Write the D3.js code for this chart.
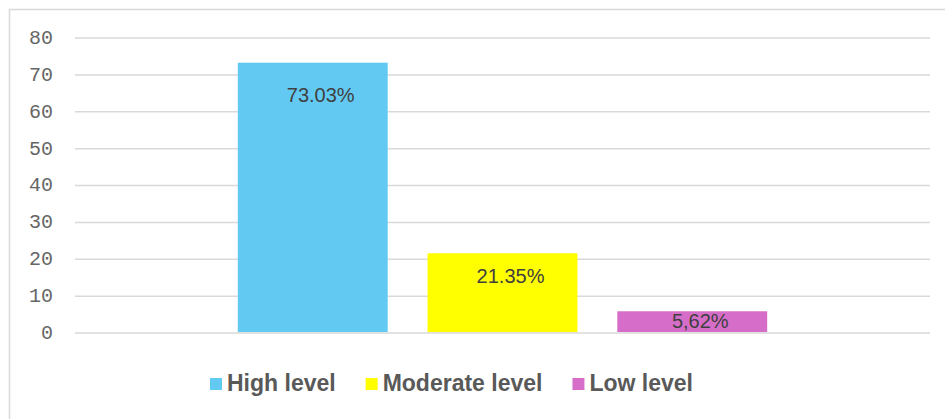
<!DOCTYPE html>
<html>
  <head>
    <meta charset="utf-8">
    <script src="https://cdn.jsdelivr.net/npm/d3@7"></script>
    <style>
      body { margin: 0; background: #fff; }
      svg { display: block; }
    </style>
  </head>
  <body>
<svg width="945" height="419"></svg>
<script>
var series = ['High level', 'Moderate level', 'Low level'];
var values = [73.03, 21.35, 5.62];
var labels = ['73.03%', '21.35%', '5,62%'];
var colors = ['#62caf2', '#ffff00', '#d66ec9'];
var yTicks = [0, 10, 20, 30, 40, 50, 60, 70, 80];

var svg = d3.select('svg');

// chart frame (right and bottom run off the picture)
svg.append('rect')
  .attr('x', 9.5).attr('y', 9.5)
  .attr('width', 1000).attr('height', 1000)
  .attr('fill', 'none')
  .attr('stroke', '#d9d9d9')
  .attr('stroke-width', 1.5);

var y = d3.scaleLinear().domain([0, 80]).range([332, 37]);

// one category, three series side by side
var x0 = d3.scaleBand().domain(['']).range([75, 930]).paddingOuter(0.3075);
var x1 = d3.scaleBand().domain(series)
  .range([x0(''), x0('') + x0.bandwidth()])
  .paddingInner(0.21);

var yAxis = d3.axisLeft(y).tickValues(yTicks).tickSize(-855).tickPadding(22);
var gy = svg.append('g').attr('transform', 'translate(75,0)').call(yAxis);
gy.select('.domain').remove();
gy.selectAll('.tick line').attr('stroke', '#d9d9d9').attr('stroke-width', 1.5)
  .attr('transform', 'translate(0,0.5)');
gy.selectAll('.tick text')
  .attr('fill', '#666')
  .style('font-family', '"Liberation Mono", monospace')
  .style('font-size', '20px');

svg.append('g').selectAll('rect').data(series)
  .enter()
  .append('rect')
    .attr('x', function (d) { return x1(d); })
    .attr('width', x1.bandwidth())
    .attr('y', function (d, i) { return y(values[i]); })
    .attr('height', function (d, i) { return y(0) - y(values[i]); })
    .attr('fill', function (d, i) { return colors[i]; });

// data labels sit a little inside the top of each bar, nudged right
var labelDrop = [39, 30, 17];
svg.append('g').selectAll('text').data(series)
  .enter()
  .append('text')
    .attr('x', function (d) { return x1(d) + x1.bandwidth() / 2 + 8; })
    .attr('y', function (d, i) { return y(values[i]) + labelDrop[i]; })
    .attr('text-anchor', 'middle')
    .attr('fill', '#404040')
    .style('font-family', '"Liberation Sans", Arial, sans-serif')
    .style('font-size', '20px')
    .text(function (d, i) { return labels[i]; });

// legend
var legend = svg.append('g').attr('transform', 'translate(210,391)');
var lx = 0;
series.forEach(function (s, i) {
  var g = legend.append('g').attr('transform', 'translate(' + lx + ',0)');
  g.append('rect').attr('x', 0).attr('y', -13).attr('width', 12).attr('height', 12)
    .attr('fill', colors[i]);
  var t = g.append('text').attr('x', 17).attr('y', 0)
    .attr('fill', '#595959')
    .style('font-family', '"Liberation Sans", Arial, sans-serif')
    .style('font-weight', 'bold')
    .style('font-size', '23px')
    .text(s);
  lx += 17 + t.node().getComputedTextLength() + 30;
});
</script>
</body>
</html>
